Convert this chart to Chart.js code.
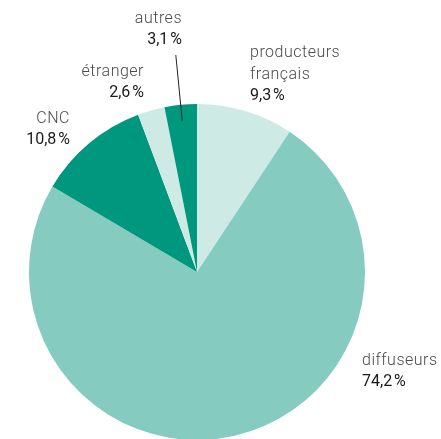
<!DOCTYPE html>
<html>
<head>
<meta charset="utf-8">
<script src="https://cdn.jsdelivr.net/npm/chart.js@4"></script>
<style>
  html, body { margin: 0; padding: 0; background: #fff; overflow: hidden; }
  #wrap { width: 441px; height: 440px; }
</style>
</head>
<body>
<div id="wrap"><canvas id="myChart"></canvas></div>
<script>
// Données
var categories = ["producteurs français", "diffuseurs", "CNC", "étranger", "autres"];
var parts = [9.3, 74.2, 10.8, 2.6, 3.1];
var couleurs = ["#cdeae5", "#85cbbf", "#00977f", "#cdeae5", "#00977f"];

// Étiquettes : lignes de texte, position relative au centre du camembert
var etiquettes = [
  { lignes: ["producteurs", "français"], x: 53, y: -215, align: "left" },
  { lignes: ["diffuseurs"], x: 165, y: 93, align: "left" },
  { lignes: ["CNC"], x: -127, y: -149, align: "right" },
  { lignes: ["étranger"], x: -53, y: -196, align: "right" },
  { lignes: ["autres"], x: -15, y: -249, align: "right" },
];

function pourcent(v) {
  return v.toFixed(1).replace(".", ",") + "\u202f%";
}

var etiquettesPlugin = {
  id: "etiquettes",
  afterDraw: function (chart) {
    var ctx = chart.ctx;
    var arcs = chart.getDatasetMeta(0).data;
    var cx = arcs[0].x, cy = arcs[0].y, r = arcs[0].outerRadius;
    ctx.save();
    ctx.letterSpacing = "0.5px";
    etiquettes.forEach(function (e, i) {
      var x = cx + e.x, y = cy + e.y;
      ctx.textAlign = e.align;
      ctx.textBaseline = "alphabetic";
      ctx.fillStyle = "#4a4a4a";
      ctx.font = "300 16px Roboto";
      e.lignes.forEach(function (l, k) {
        ctx.fillText(l, x, y + k * 22);
      });
      ctx.fillStyle = "#1a1a1a";
      ctx.font = "400 16px Roboto";
      ctx.fillText(pourcent(parts[i]), x, y + e.lignes.length * 22 - 1);
    });
    // trait de rappel pour "autres"
    var a = arcs[4];
    var ang = (a.startAngle + a.endAngle) / 2;
    ctx.strokeStyle = "#222";
    ctx.lineWidth = 1;
    ctx.beginPath();
    ctx.moveTo(cx + Math.cos(ang) * (r - 16), cy + Math.sin(ang) * (r - 16));
    ctx.lineTo(cx + Math.cos(ang) * (r + 50), cy + Math.sin(ang) * (r + 50));
    ctx.stroke();
    ctx.restore();
  },
};

var ctx = document.getElementById("myChart").getContext("2d");
var myChart = new Chart(ctx, {
  type: "pie",
  data: {
    labels: categories,
    datasets: [
      {
        data: parts,
        backgroundColor: couleurs,
        borderWidth: 0,
      },
    ],
  },
  options: {
    responsive: true,
    maintainAspectRatio: false,
    animation: false,
    layout: { padding: { left: 29, right: 76, top: 104, bottom: 0 } },
    plugins: {
      legend: { display: false },
      tooltip: { enabled: false },
    },
  },
  plugins: [etiquettesPlugin],
});
</script>
</body>
</html>
